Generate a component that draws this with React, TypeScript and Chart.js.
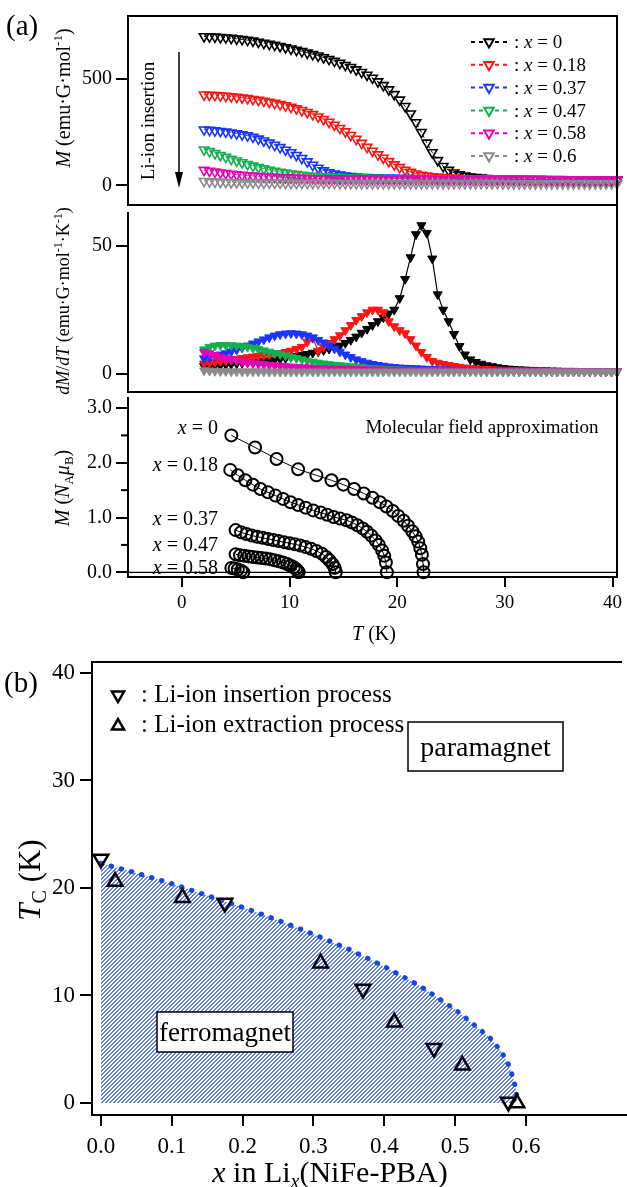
import React, { useEffect, useRef } from 'react';
import { Chart, registerables } from 'chart.js';
Chart.register(...registerables);

const SERIF = '"Liberation Serif", "Times New Roman", serif';
const W = 627;

// ---------- DATA ----------
const temps = [2, 2.5, 3, 3.5, 4, 4.5, 5, 5.5, 6, 6.5, 7, 7.5, 8, 8.5, 9, 9.5, 10, 10.5, 11, 11.5, 12, 12.5, 13, 13.5, 14, 14.5, 15, 15.5, 16, 16.5, 17, 17.5, 18, 18.5, 19, 19.5, 20, 20.5, 21, 21.5, 22, 22.5, 23, 23.5, 24, 24.5, 25, 25.5, 26, 26.5, 27, 27.5, 28, 28.5, 29, 29.5, 30, 30.5, 31, 31.5, 32, 32.5, 33, 33.5, 34, 34.5, 35, 35.5, 36, 36.5, 37, 37.5, 38, 38.5, 39, 39.5, 40];
const compositions = ['0', '0.18', '0.37', '0.47', '0.58', '0.6'];
const colors = ['#000000', '#ff1414', '#1a35ff', '#12b04e', '#e800b8', '#8a8a8a'];

// M (emu G mol^-1)
const magX0 = [700, 699, 698, 696, 694, 692, 689, 686, 683, 679, 674, 669, 664, 659, 654, 648, 642, 636, 630, 623, 616, 609, 601, 593, 584, 575, 565, 555, 544, 532, 519, 505, 488, 470, 450, 428, 402, 372, 337, 296, 250, 200, 155, 118, 90, 72, 60, 51, 45, 41, 38, 36, 34, 33, 32, 31, 30, 29, 29, 28, 28, 27, 27, 26, 26, 26, 25, 25, 25, 25, 24, 24, 24, 24, 23, 23, 23];
const magX18 = [426, 425, 424, 422, 420, 418, 415, 412, 409, 405, 401, 397, 392, 387, 381, 375, 368, 361, 353, 344, 334, 323, 311, 298, 284, 269, 253, 236, 218, 199, 180, 162, 145, 129, 113, 98, 85, 73, 63, 55, 49, 45, 42, 40, 38, 36, 35, 34, 33, 32, 32, 31, 31, 30, 30, 30, 29, 29, 29, 29, 28, 28, 28, 28, 28, 27, 27, 27, 27, 27, 27, 26, 26, 26, 26, 26, 26];
const magX37 = [262, 260, 258, 255, 252, 248, 244, 239, 234, 228, 219, 210, 200, 190, 179, 167, 155, 142, 128, 112, 96, 82, 70, 61, 55, 50, 46, 43, 41, 39, 38, 37, 36, 36, 35, 35, 34, 34, 34, 33, 33, 33, 32, 32, 32, 32, 31, 31, 31, 31, 31, 30, 30, 30, 30, 30, 30, 29, 29, 29, 29, 29, 29, 29, 28, 28, 28, 28, 28, 28, 28, 28, 27, 27, 27, 27, 27];
const magX47 = [168, 160, 151, 142, 133, 124, 116, 108, 100, 92, 85, 79, 73, 68, 63, 59, 55, 52, 49, 46, 44, 42, 41, 40, 39, 38, 37, 36, 36, 35, 35, 34, 34, 34, 33, 33, 33, 33, 32, 32, 32, 32, 32, 31, 31, 31, 31, 31, 31, 30, 30, 30, 30, 30, 30, 30, 30, 29, 29, 29, 29, 29, 29, 29, 29, 29, 29, 28, 28, 28, 28, 28, 28, 28, 28, 28, 28];
const magX58 = [72, 68, 64, 60, 57, 54, 51, 49, 47, 45, 43, 41, 40, 39, 38, 37, 36, 35, 34, 34, 33, 33, 32, 32, 32, 31, 31, 31, 31, 30, 30, 30, 30, 30, 30, 30, 30, 30, 30, 30, 30, 30, 30, 29, 29, 29, 29, 29, 29, 29, 29, 29, 29, 29, 29, 29, 29, 29, 29, 29, 29, 29, 29, 28, 28, 28, 28, 28, 28, 28, 28, 28, 28, 28, 28, 28, 28];
const magX60 = [20, 18, 17, 16, 15, 14, 14, 13, 13, 13, 12, 12, 12, 12, 12, 11, 11, 11, 11, 11, 11, 11, 11, 11, 11, 10, 10, 10, 10, 10, 10, 10, 10, 10, 10, 10, 10, 10, 10, 10, 10, 10, 10, 10, 10, 10, 10, 10, 10, 10, 10, 10, 10, 10, 10, 9, 9, 9, 9, 9, 9, 9, 9, 9, 9, 9, 9, 9, 9, 9, 9, 9, 9, 9, 9, 9, 9];

// dM/dT (emu G mol^-1 K^-1)
const dmdtX0 = [3.0, 3.1, 3.2, 3.4, 3.6, 3.8, 4.0, 4.2, 4.4, 4.6, 4.8, 5.0, 5.2, 5.5, 5.8, 6.1, 6.5, 6.9, 7.3, 7.7, 8.2, 8.7, 9.2, 9.8, 10.4, 11.0, 12.0, 13.2, 14.5, 16.0, 17.5, 19.0, 20.5, 22.0, 23.5, 25.0, 29.5, 37.0, 45.5, 54.5, 58.0, 55.0, 45.0, 31.0, 25.0, 20.5, 15.5, 10.8, 7.5, 5.6, 4.6, 3.9, 3.3, 2.9, 2.5, 2.2, 2.0, 1.8, 1.7, 1.6, 1.5, 1.4, 1.3, 1.3, 1.2, 1.2, 1.1, 1.1, 1.1, 1.0, 1.0, 1.0, 1.0, 0.9, 0.9, 0.9, 0.9];
const dmdtX18 = [4.0, 4.3, 4.6, 4.9, 5.2, 5.5, 5.8, 6.1, 6.4, 6.7, 7.0, 7.3, 7.5, 7.8, 8.0, 8.5, 9.0, 9.7, 10.5, 12.5, 14.0, 9.0, 10.5, 12.0, 13.5, 15.0, 17.0, 19.0, 21.0, 22.5, 24.0, 25.0, 25.0, 24.0, 20.5, 18.5, 17.0, 15.8, 13.5, 11.0, 8.5, 6.5, 5.0, 4.3, 3.8, 3.4, 3.0, 2.7, 2.4, 2.2, 2.0, 1.9, 1.8, 1.7, 1.6, 1.5, 1.4, 1.4, 1.3, 1.3, 1.2, 1.2, 1.2, 1.1, 1.1, 1.1, 1.0, 1.0, 1.0, 1.0, 1.0, 0.9, 0.9, 0.9, 0.9, 0.9, 0.9];
const dmdtX37 = [6.0, 6.5, 7.0, 7.5, 8.0, 8.7, 9.4, 10.2, 11.0, 11.8, 12.6, 13.4, 14.2, 14.9, 15.4, 15.7, 15.8, 15.7, 15.4, 14.9, 14.2, 13.2, 12.2, 11.0, 9.8, 8.6, 7.5, 6.5, 5.6, 4.9, 4.3, 3.8, 3.4, 3.1, 2.8, 2.6, 2.4, 2.3, 2.2, 2.1, 2.0, 1.9, 1.8, 1.7, 1.6, 1.6, 1.5, 1.5, 1.4, 1.4, 1.3, 1.3, 1.3, 1.2, 1.2, 1.2, 1.1, 1.1, 1.1, 1.1, 1.0, 1.0, 1.0, 1.0, 1.0, 0.9, 0.9, 0.9, 0.9, 0.9, 0.9, 0.9, 0.9, 0.9, 0.8, 0.8, 0.8];
const dmdtX47 = [9.5, 10.5, 11.0, 11.2, 11.2, 11.1, 11.0, 10.8, 10.5, 10.1, 9.6, 9.1, 8.6, 8.1, 7.6, 7.1, 6.6, 6.1, 5.6, 5.1, 4.7, 4.3, 4.0, 3.7, 3.5, 3.3, 3.1, 2.9, 2.7, 2.5, 2.3, 2.1, 2.0, 1.9, 1.8, 1.7, 1.6, 1.5, 1.5, 1.4, 1.4, 1.3, 1.3, 1.3, 1.2, 1.2, 1.2, 1.2, 1.1, 1.1, 1.1, 1.1, 1.1, 1.0, 1.0, 1.0, 1.0, 1.0, 1.0, 1.0, 0.9, 0.9, 0.9, 0.9, 0.9, 0.9, 0.9, 0.9, 0.9, 0.9, 0.9, 0.9, 0.9, 0.8, 0.8, 0.8, 0.8];
const dmdtX58 = [8.5, 8.0, 7.3, 6.6, 6.0, 5.5, 5.1, 4.7, 4.4, 4.1, 3.9, 3.7, 3.5, 3.3, 3.1, 2.9, 2.8, 2.6, 2.5, 2.4, 2.3, 2.2, 2.1, 2.0, 2.0, 1.9, 1.9, 1.8, 1.8, 1.7, 1.7, 1.6, 1.6, 1.6, 1.5, 1.5, 1.5, 1.4, 1.4, 1.4, 1.4, 1.3, 1.3, 1.3, 1.3, 1.3, 1.2, 1.2, 1.2, 1.2, 1.2, 1.2, 1.2, 1.1, 1.1, 1.1, 1.1, 1.1, 1.1, 1.1, 1.1, 1.1, 1.0, 1.0, 1.0, 1.0, 1.0, 1.0, 1.0, 1.0, 1.0, 1.0, 1.0, 0.9, 0.9, 0.9, 0.9];
const dmdtX60 = [1.3, 1.2, 1.1, 1.0, 1.0, 0.9, 0.9, 0.9, 0.9, 0.9, 0.9, 0.9, 0.8, 0.8, 0.8, 0.8, 0.8, 0.8, 0.8, 0.8, 0.8, 0.8, 0.8, 0.8, 0.8, 0.8, 0.8, 0.8, 0.8, 0.8, 0.8, 0.8, 0.8, 0.8, 0.8, 0.8, 0.8, 0.8, 0.8, 0.8, 0.8, 0.8, 0.8, 0.8, 0.8, 0.8, 0.8, 0.8, 0.8, 0.8, 0.8, 0.8, 0.8, 0.8, 0.8, 0.8, 0.8, 0.8, 0.8, 0.8, 0.8, 0.8, 0.8, 0.8, 0.8, 0.8, 0.8, 0.8, 0.8, 0.8, 0.8, 0.8, 0.8, 0.8, 0.8, 0.8, 0.8];

// Molecular field approximation, M (N_A mu_B)
const mfaT0 = [4.6, 6.8, 8.8, 10.8, 12.5, 13.9, 15.0, 16.0, 16.9, 17.7, 18.4, 19.0, 19.6, 20.1, 20.6, 21.0, 21.4, 21.7, 21.95, 22.15, 22.3, 22.4, 22.45];
const mfaM0 = [2.50, 2.28, 2.07, 1.88, 1.77, 1.68, 1.60, 1.52, 1.44, 1.36, 1.28, 1.20, 1.12, 1.03, 0.94, 0.85, 0.75, 0.66, 0.56, 0.44, 0.32, 0.15, 0];
const mfaT18 = [4.5, 5.2, 5.9, 6.6, 7.3, 8.0, 8.7, 9.4, 10.1, 10.8, 11.5, 12.2, 12.9, 13.5, 14.1, 14.7, 15.3, 15.8, 16.3, 16.8, 17.2, 17.6, 18.0, 18.3, 18.6, 18.8, 18.95, 19.05];
const mfaM18 = [1.87, 1.77, 1.68, 1.60, 1.52, 1.46, 1.40, 1.34, 1.28, 1.23, 1.18, 1.13, 1.09, 1.05, 1.01, 0.98, 0.95, 0.91, 0.86, 0.80, 0.74, 0.67, 0.58, 0.50, 0.40, 0.30, 0.18, 0];
const mfaT37 = [5.0, 5.5, 6.0, 6.5, 7.0, 7.5, 8.0, 8.5, 9.0, 9.5, 10.0, 10.5, 11.0, 11.5, 12.0, 12.5, 13.0, 13.4, 13.7, 14.0, 14.2, 14.3];
const mfaM37 = [0.77, 0.73, 0.70, 0.67, 0.65, 0.63, 0.61, 0.59, 0.57, 0.55, 0.53, 0.51, 0.49, 0.46, 0.43, 0.39, 0.34, 0.28, 0.22, 0.15, 0.08, 0];
const mfaT47 = [5.0, 5.4, 5.8, 6.2, 6.6, 7.0, 7.4, 7.8, 8.2, 8.6, 9.0, 9.4, 9.8, 10.1, 10.4, 10.6, 10.75, 10.85];
const mfaM47 = [0.33, 0.31, 0.30, 0.29, 0.28, 0.27, 0.26, 0.25, 0.24, 0.22, 0.20, 0.18, 0.15, 0.12, 0.09, 0.06, 0.03, 0];
const mfaT58 = [4.6, 4.9, 5.2, 5.5, 5.7];
const mfaM58 = [0.08, 0.07, 0.05, 0.03, 0];
const mfaLabels = ['0', '0.18', '0.37', '0.47', '0.58'];

// Phase diagram (b)
const boundaryX = [0, 0.05, 0.1, 0.15, 0.2, 0.25, 0.3, 0.35, 0.4, 0.45, 0.5, 0.53, 0.55, 0.565, 0.575, 0.582, 0.586, 0.588];
const boundaryTc = [22.3, 21.4, 20.4, 19.3, 18.2, 17.0, 15.7, 14.3, 12.7, 10.9, 8.7, 7.1, 6.0, 4.8, 3.6, 2.3, 1.1, 0];
const insertionX = [0.0, 0.175, 0.37, 0.47, 0.575];
const insertionTc = [22.7, 18.6, 10.6, 5.1, 0.1];
const extractionX = [0.02, 0.115, 0.31, 0.414, 0.51, 0.587];
const extractionTc = [20.6, 19.1, 13.0, 7.5, 3.5, 0];

// Tick values
const tTicks = [0, 10, 20, 30, 40];
const magTicks = [0, 500];
const dmdtTicks = [0, 50];
const mfaTicks = [0, 1, 2, 3];
const mfaMinorTicks = [0.5, 1.5, 2.5];
const xLiTicks = [0, 0.1, 0.2, 0.3, 0.4, 0.5, 0.6];
const tcTicks = [0, 10, 20, 30, 40];

// ---------- helpers ----------
type Seg = { t: string; i?: boolean; sup?: boolean; sub?: boolean };

function drawRich(ctx: CanvasRenderingContext2D, segs: Seg[], x: number, y: number, size: number, align: 'left' | 'center' | 'right' = 'left', rot = 0) {
  ctx.save();
  ctx.translate(x, y);
  if (rot) ctx.rotate(rot);
  const fontOf = (s: Seg) => `${s.i ? 'italic ' : ''}${s.sup || s.sub ? Math.round(size * 0.65) : size}px ${SERIF}`;
  let total = 0;
  const widths = segs.map((s) => {
    ctx.font = fontOf(s);
    const w = ctx.measureText(s.t).width;
    total += w;
    return w;
  });
  let cx = align === 'left' ? 0 : align === 'center' ? -total / 2 : -total;
  ctx.textAlign = 'left';
  ctx.textBaseline = 'alphabetic';
  ctx.fillStyle = '#000';
  const base = size * 0.33;
  segs.forEach((s, k) => {
    ctx.font = fontOf(s);
    let dy = base;
    if (s.sup) dy = base - size * 0.4;
    if (s.sub) dy = base + size * 0.2;
    ctx.fillText(s.t, cx, dy);
    cx += widths[k];
  });
  ctx.restore();
}

function tri(ctx: CanvasRenderingContext2D, x: number, y: number, r: number, down: boolean, stroke: string, lw: number, fill?: string) {
  ctx.save();
  ctx.beginPath();
  let a = down ? Math.PI : 0;
  for (let k = 0; k < 3; k++) {
    const px = x + Math.sin(a) * r;
    const py = y - Math.cos(a) * r;
    if (k === 0) ctx.moveTo(px, py);
    else ctx.lineTo(px, py);
    a += (2 * Math.PI) / 3;
  }
  ctx.closePath();
  if (fill) {
    ctx.fillStyle = fill;
    ctx.fill();
  }
  ctx.strokeStyle = stroke;
  ctx.lineWidth = lw;
  ctx.stroke();
  ctx.restore();
}

function line(ctx: CanvasRenderingContext2D, x1: number, y1: number, x2: number, y2: number, lw = 2) {
  ctx.save();
  ctx.strokeStyle = '#000';
  ctx.lineWidth = lw;
  ctx.beginPath();
  ctx.moveTo(x1, y1);
  ctx.lineTo(x2, y2);
  ctx.stroke();
  ctx.restore();
}

function overlay(id: string, top: number, draw: (ctx: CanvasRenderingContext2D, chart: any) => void) {
  return {
    id,
    afterDraw(chart: any) {
      const ctx = chart.ctx as CanvasRenderingContext2D;
      ctx.save();
      ctx.translate(0, -top);
      draw(ctx, chart);
      ctx.restore();
    },
  };
}

function yAxis(min: number, max: number, ticks: number[], left: number, size: number, tickLen: number, fmt: (v: number) => string, pad = 4) {
  return {
    type: 'linear',
    min,
    max,
    afterFit: (s: any) => {
      s.width = left;
    },
    afterBuildTicks: (s: any) => {
      s.ticks = ticks.map((v) => ({ value: v }));
    },
    ticks: { font: { family: SERIF, size }, color: '#000', padding: pad, autoSkip: false, callback: (v: any) => fmt(Number(v)) },
    grid: { drawOnChartArea: false, drawTicks: true, tickLength: tickLen, color: '#000', lineWidth: 2 },
    border: { display: false },
  };
}

const A_LEFT = 128;
const A_RIGHT = 617;
const baseOpts = {
  animation: false,
  responsive: false,
  events: [] as any[],
};
const noPlug = { legend: { display: false }, tooltip: { enabled: false } };

// ---------- panel builders ----------
function buildA1(top: number, h: number) {
  const series = [magX0, magX18, magX37, magX47, magX58, magX60];
  return {
    type: 'line',
    data: {
      datasets: series.map((vals, k) => ({
        label: 'x = ' + compositions[k],
        data: temps.map((t, j) => ({ x: t, y: vals[j] })),
        borderColor: colors[k],
        borderWidth: 1,
        borderDash: [3, 3],
        pointStyle: 'triangle',
        pointRotation: 180,
        pointRadius: 5.5,
        pointBorderColor: colors[k],
        pointBackgroundColor: 'rgba(255,255,255,0)',
        pointBorderWidth: 1.6,
        fill: false,
        clip: false,
        order: 10 - k,
      })),
    },
    options: {
      ...baseOpts,
      layout: { padding: { top: 16 - top, right: W - A_RIGHT, bottom: top + h - 205, left: 0 } },
      plugins: noPlug,
      scales: {
        x: { type: 'linear', min: -5, max: 40, display: false },
        y: yAxis(-40, 796, magTicks, A_LEFT, 20, 12, (v) => String(v)),
      },
    },
    plugins: [
      overlay('a1', top, (ctx) => {
        ctx.save();
        ctx.strokeStyle = '#000';
        ctx.lineWidth = 2;
        ctx.strokeRect(A_LEFT, 16, A_RIGHT - A_LEFT, 189);
        ctx.restore();
        drawRich(ctx, [{ t: '(a)' }], 6, 25, 29, 'left');
        drawRich(ctx, [{ t: 'M', i: true }, { t: ' (emu·G·mol' }, { t: '-1', sup: true }, { t: ')' }], 63, 98, 20, 'center', -Math.PI / 2);
        drawRich(ctx, [{ t: 'Li-ion insertion' }], 148, 121, 19, 'center', -Math.PI / 2);
        line(ctx, 179, 52, 179, 176, 1.5);
        ctx.save();
        ctx.fillStyle = '#000';
        ctx.beginPath();
        ctx.moveTo(179, 188);
        ctx.lineTo(175, 172);
        ctx.lineTo(183, 172);
        ctx.closePath();
        ctx.fill();
        ctx.restore();
        compositions.forEach((c, k) => {
          const y = 42 + 22.8 * k;
          ctx.save();
          ctx.strokeStyle = colors[k];
          ctx.lineWidth = 2;
          ctx.setLineDash([4, 4]);
          ctx.beginPath();
          ctx.moveTo(471, y);
          ctx.lineTo(507, y);
          ctx.stroke();
          ctx.restore();
          tri(ctx, 489, y, 5.5, true, colors[k], 2, '#ffffff');
          drawRich(ctx, [{ t: ': ' }, { t: 'x', i: true }, { t: ' = ' + c }], 514, y, 19, 'left');
        });
      }),
    ],
  };
}

function buildA2(top: number, h: number) {
  const series = [dmdtX0, dmdtX18, dmdtX37, dmdtX47, dmdtX58, dmdtX60];
  return {
    type: 'line',
    data: {
      datasets: series.map((vals, k) => ({
        label: 'x = ' + compositions[k],
        data: temps.map((t, j) => ({ x: t, y: vals[j] })),
        borderColor: colors[k],
        borderWidth: 1.2,
        pointStyle: 'triangle',
        pointRotation: 180,
        pointRadius: 5.2,
        pointBorderColor: colors[k],
        pointBackgroundColor: colors[k],
        pointBorderWidth: 1,
        fill: false,
        clip: false,
        order: 10 - k,
      })),
    },
    options: {
      ...baseOpts,
      layout: { padding: { top: 212 - top, right: W - A_RIGHT, bottom: top + h - 392, left: 0 } },
      plugins: noPlug,
      scales: {
        x: { type: 'linear', min: -5, max: 40, display: false },
        y: yAxis(-2.8, 59.7, dmdtTicks, A_LEFT, 20, 12, (v) => String(v)),
      },
    },
    plugins: [
      overlay('a2', top, (ctx) => {
        line(ctx, A_LEFT, 212, A_LEFT, 393);
        line(ctx, A_LEFT - 1, 392, A_RIGHT + 1, 392);
        line(ctx, A_RIGHT, 205, A_RIGHT, 393);
        drawRich(
          ctx,
          [{ t: 'dM', i: true }, { t: '/' }, { t: 'dT', i: true }, { t: ' (emu·G·mol' }, { t: '-1', sup: true }, { t: '·K' }, { t: '-1', sup: true }, { t: ')' }],
          63,
          301,
          18,
          'center',
          -Math.PI / 2
        );
      }),
    ],
  };
}

function buildA3(top: number, h: number) {
  const ts = [mfaT0, mfaT18, mfaT37, mfaT47, mfaT58];
  const ms = [mfaM0, mfaM18, mfaM37, mfaM47, mfaM58];
  return {
    type: 'line',
    data: {
      datasets: ts.map((tt, k) => ({
        label: 'x = ' + mfaLabels[k],
        data: tt.map((t, j) => ({ x: t, y: ms[k][j] })),
        borderColor: '#000',
        borderWidth: 1,
        pointStyle: 'circle',
        pointRadius: 6,
        pointBorderColor: '#000',
        pointBackgroundColor: 'rgba(255,255,255,0)',
        pointBorderWidth: 2,
        fill: false,
        clip: false,
      })),
    },
    options: {
      ...baseOpts,
      layout: { padding: { top: 397 - top, right: W - A_RIGHT, bottom: 0, left: 0 } },
      plugins: noPlug,
      scales: {
        x: {
          type: 'linear',
          min: -5,
          max: 40,
          afterFit: (s: any) => {
            s.height = top + h - 577;
          },
          afterBuildTicks: (s: any) => {
            s.ticks = tTicks.map((v) => ({ value: v }));
          },
          ticks: { font: { family: SERIF, size: 19 }, color: '#000', padding: 5, autoSkip: false, maxRotation: 0 },
          grid: { drawOnChartArea: false, drawTicks: true, tickLength: 10, color: '#000', lineWidth: 2 },
          border: { display: false },
        },
        y: yAxis(-0.086, 3.0, mfaTicks, A_LEFT, 20, 12, (v) => v.toFixed(1)),
      },
    },
    plugins: [
      {
        id: 'zero',
        beforeDatasetsDraw(chart: any) {
          const ctx = chart.ctx as CanvasRenderingContext2D;
          const y0 = chart.scales.y.getPixelForValue(0);
          line(ctx, A_LEFT, y0, A_RIGHT, y0, 1.3);
        },
      },
      overlay('a3', top, (ctx, chart) => {
        line(ctx, A_LEFT, 397, A_LEFT, 578);
        line(ctx, A_LEFT - 1, 577, A_RIGHT + 1, 577);
        line(ctx, A_RIGHT, 392, A_RIGHT, 578);
        mfaMinorTicks.forEach((v) => {
          const y = chart.scales.y.getPixelForValue(v) + top;
          line(ctx, A_LEFT - 7, y, A_LEFT, y, 2);
        });
        const ly = [427, 464, 518, 544, 567];
        mfaLabels.forEach((c, k) => {
          drawRich(ctx, [{ t: 'x', i: true }, { t: ' = ' + c }], 218, ly[k], 20, 'right');
        });
        drawRich(ctx, [{ t: 'Molecular field approximation' }], 482, 427, 19, 'center');
        drawRich(ctx, [{ t: 'M', i: true }, { t: ' (' }, { t: 'N', i: true }, { t: 'A', sub: true }, { t: 'μ', i: true }, { t: 'B', sub: true }, { t: ')' }], 62, 488, 20, 'center', -Math.PI / 2);
        drawRich(ctx, [{ t: 'T', i: true }, { t: ' (K)' }], 374, 633, 20, 'center');
      }),
    ],
  };
}

function makeHatch() {
  // crisp pixel diagonal stripes ("/"), blue on white
  const c = document.createElement('canvas');
  c.width = 4;
  c.height = 4;
  const g = c.getContext('2d')!;
  g.fillStyle = 'rgb(100,130,228)';
  for (let y = 0; y < 4; y++) {
    const x0 = 3 - y;
    g.fillRect(x0, y, 1, 1);
    g.fillRect((x0 + 1) % 4, y, 1, 1);
  }
  return g.createPattern(c, 'repeat');
}

const B_LEFT = 92;
const B_RIGHT = 622;
function buildB(top: number, h: number) {
  return {
    type: 'line',
    data: {
      datasets: [
        {
          label: 'boundary',
          data: boundaryX.map((x, j) => ({ x, y: boundaryTc[j] })),
          borderColor: '#1746e0',
          borderWidth: 5,
          borderDash: [0.5, 10],
          borderCapStyle: 'round',
          pointRadius: 0,
          fill: 'origin',
          backgroundColor: makeHatch(),
          order: 3,
        },
        {
          label: 'Li-ion insertion process',
          data: insertionX.map((x, j) => ({ x, y: insertionTc[j] })),
          showLine: false,
          pointStyle: 'triangle',
          pointRotation: 180,
          pointRadius: 8.5,
          pointBorderColor: '#000',
          pointBackgroundColor: 'rgba(255,255,255,0)',
          pointBorderWidth: 2.5,
          clip: false,
          order: 1,
        },
        {
          label: 'Li-ion extraction process',
          data: extractionX.map((x, j) => ({ x, y: extractionTc[j] })),
          showLine: false,
          pointStyle: 'triangle',
          pointRotation: 0,
          pointRadius: 8.5,
          pointBorderColor: '#000',
          pointBackgroundColor: 'rgba(255,255,255,0)',
          pointBorderWidth: 2.5,
          clip: false,
          order: 2,
        },
      ],
    },
    options: {
      ...baseOpts,
      layout: { padding: { top: 662 - top, right: W - B_RIGHT, bottom: 0, left: 0 } },
      plugins: noPlug,
      scales: {
        x: {
          type: 'linear',
          min: -0.01256,
          max: 0.7269,
          afterFit: (s: any) => {
            s.height = top + h - 1115;
          },
          afterBuildTicks: (s: any) => {
            s.ticks = xLiTicks.map((v) => ({ value: v }));
          },
          ticks: { font: { family: SERIF, size: 23 }, color: '#000', padding: 7, autoSkip: false, maxRotation: 0, callback: (v: any) => Number(v).toFixed(1) },
          grid: { drawOnChartArea: false, drawTicks: true, tickLength: 11, color: '#000', lineWidth: 2 },
          border: { display: false },
        },
        y: yAxis(-1.116, 41.02, tcTicks, B_LEFT, 23, 12, (v) => String(v), 5),
      },
    },
    plugins: [
      overlay('b', top, (ctx) => {
        line(ctx, B_LEFT, 662, B_LEFT, 1116);
        line(ctx, B_LEFT - 1, 1115, 627, 1115);
        line(ctx, B_LEFT - 1, 662, B_RIGHT, 662);
        drawRich(ctx, [{ t: '(b)' }], 4, 682, 29, 'left');
        tri(ctx, 118, 695, 7, true, '#000', 2.5);
        tri(ctx, 118, 726, 7, false, '#000', 2.5);
        drawRich(ctx, [{ t: ': Li-ion insertion process' }], 141, 694, 25, 'left');
        drawRich(ctx, [{ t: ': Li-ion extraction process' }], 141, 724, 25, 'left');
        // boxes
        ctx.save();
        ctx.strokeStyle = '#000';
        ctx.lineWidth = 1.5;
        ctx.fillStyle = '#fff';
        ctx.fillRect(408, 722, 155, 49);
        ctx.strokeRect(408, 722, 155, 49);
        ctx.fillRect(157, 1012, 136, 40);
        ctx.strokeRect(157, 1012, 136, 40);
        ctx.restore();
        drawRich(ctx, [{ t: 'paramagnet' }], 485.5, 747, 28, 'center');
        drawRich(ctx, [{ t: 'ferromagnet' }], 225, 1032, 27, 'center');
        drawRich(ctx, [{ t: 'T', i: true }, { t: 'C', sub: true }, { t: ' (K)' }], 30, 880, 31, 'center', -Math.PI / 2);
        drawRich(ctx, [{ t: 'x', i: true }, { t: ' in Li' }, { t: 'x', i: true, sub: true }, { t: '(NiFe-PBA)' }], 330, 1172, 30, 'center');
      }),
    ],
  };
}

function Panel({ top, height, build }: { top: number; height: number; build: (top: number, h: number) => any }) {
  const ref = useRef<HTMLCanvasElement>(null);
  useEffect(() => {
    if (!ref.current) return;
    const chart = new Chart(ref.current, build(top, height));
    return () => chart.destroy();
  }, [top, height, build]);
  return (
    <canvas
      ref={ref}
      width={W}
      height={height}
      style={{ position: 'absolute', left: 0, top, width: W, height, display: 'block' }}
    />
  );
}

export default function App() {
  return (
    <div style={{ position: 'absolute', left: 0, top: 0, width: W, height: 1187, background: '#fff', overflow: 'hidden' }}>
      <Panel top={0} height={210} build={buildA1} />
      <Panel top={205} height={192} build={buildA2} />
      <Panel top={392} height={260} build={buildA3} />
      <Panel top={640} height={547} build={buildB} />
    </div>
  );
}
